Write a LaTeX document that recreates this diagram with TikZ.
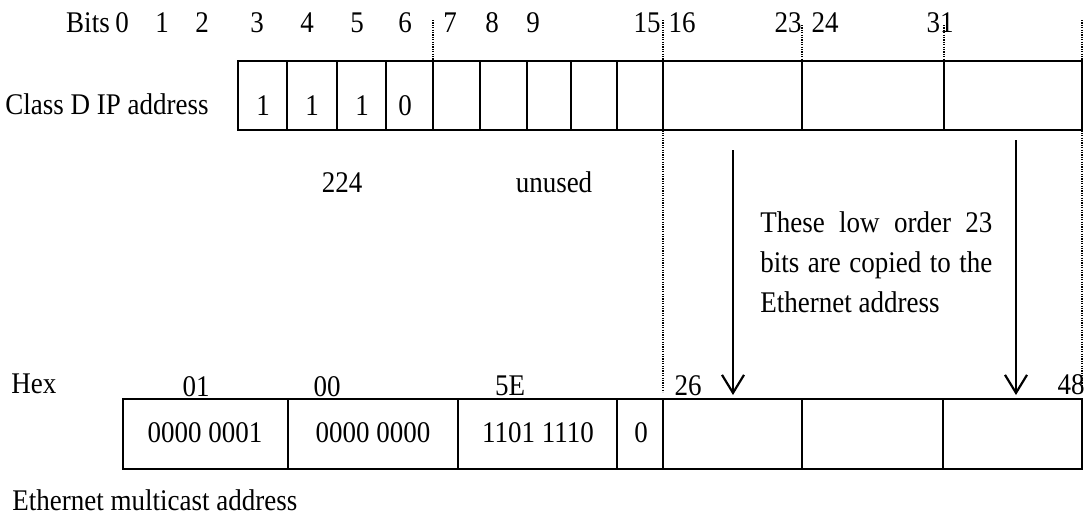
\documentclass[tikz,border=0pt]{standalone}
\usepackage{fontspec}
\setmainfont[FakeStretch=0.9]{Liberation Serif}
\usetikzlibrary{arrows.meta}

\tikzset{
  frame/.style={line width=1.35pt},
  guide/.style={line width=1pt, dash pattern=on 0.6pt off 0.6pt},
  copyarrow/.style={line width=1.1pt, -{Straight Barb[length=9pt,width=11pt,line width=1.1pt]}},
  lbl/.style={inner sep=0pt, anchor=base, font=\fontsize{15}{18}\selectfont},
}

\begin{document}
\begin{tikzpicture}[x=0.5pt,y=-0.5pt]
	%%%%% START %%%%%
	\useasboundingbox (0,0) rectangle (1088,520);

	% dotted bit boundaries
	\draw[guide] (433,20) -- (433,61);
	\draw[guide] (663,20) -- (663,392);
	\draw[guide] (802,25) -- (802,61);
	\draw[guide] (944,25) -- (944,61);
	\draw[guide] (1082,20) -- (1082,392);

	% bit numbers
	\node[lbl] (bits) at (88,32) {Bits};
	\node[lbl] (b0) at (122,32) {0};
	\node[lbl] (b1) at (162,32) {1};
	\node[lbl] (b2) at (202,32) {2};
	\node[lbl] (b3) at (257,32) {3};
	\node[lbl] (b4) at (307,32) {4};
	\node[lbl] (b5) at (357,32) {5};
	\node[lbl] (b6) at (405,32) {6};
	\node[lbl] (b7) at (450,32) {7};
	\node[lbl] (b8) at (492,32) {8};
	\node[lbl] (b9) at (533,32) {9};
	\node[lbl] (b15) at (647,32) {15};
	\node[lbl] (b16) at (682,32) {16};
	\node[lbl] (b23) at (788,32) {23};
	\node[lbl] (b24) at (825,32) {24};
	\node[lbl] (b31) at (940,32) {31};

	% class D address word
	\node[lbl, anchor=base west] (ipname) at (5,114) {Class D IP address};
	\draw[frame] (238,61) rectangle (1082,130);
	\draw[frame] (287,61) -- (287,130);
	\draw[frame] (337,61) -- (337,130);
	\draw[frame] (386,61) -- (386,130);
	\draw[frame] (433,61) -- (433,130);
	\draw[frame] (480,61) -- (480,130);
	\draw[frame] (527,61) -- (527,130);
	\draw[frame] (571,61) -- (571,130);
	\draw[frame] (617,61) -- (617,130);
	\draw[frame] (663,61) -- (663,130);
	\draw[frame] (802,61) -- (802,130);
	\draw[frame] (944,61) -- (944,130);

	\node[lbl] (ip0) at (263,115) {1};
	\node[lbl] (ip1) at (312,115) {1};
	\node[lbl] (ip2) at (362,115) {1};
	\node[lbl] (ip3) at (405,115) {0};

	\node[lbl] (prefix) at (342,192) {224};
	\node[lbl] (unused) at (554,192) {unused};

	\node[lbl, anchor=base west, text width=116pt, align=justify,
		font=\fontsize{15}{20}\selectfont] (note) at (760,232)
		{These low order 23\linebreak bits are copied to the\linebreak Ethernet address};

	% low order bits copied down
	\coordinate (srcL) at (733,150);
	\coordinate (dstL) at (733,395);
	\coordinate (srcR) at (1016,140);
	\coordinate (dstR) at (1016,395);
	\draw[copyarrow] (srcL) -- (dstL);
	\draw[copyarrow] (srcR) -- (dstR);

	% ethernet address
	\node[lbl, anchor=base west] (hex) at (11,393) {Hex};
	\node[lbl] (h01) at (196,396) {01};
	\node[lbl] (h00) at (327,396) {00};
	\node[lbl] (h5e) at (510,395) {5E};
	\node[lbl] (e26) at (688,395) {26};
	\node[lbl] (e48) at (1071,394) {48};

	\draw[frame] (123,399) rectangle (1082,469);
	\draw[frame] (288,399) -- (288,469);
	\draw[frame] (458,399) -- (458,469);
	\draw[frame] (617,399) -- (617,469);
	\draw[frame] (663,399) -- (663,469);
	\draw[frame] (802,399) -- (802,469);
	\draw[frame] (943,399) -- (943,469);

	\node[lbl] (oct0) at (205,442) {0000 0001};
	\node[lbl] (oct1) at (373,442) {0000 0000};
	\node[lbl] (oct2) at (538,442) {1101 1110};
	\node[lbl] (oct3) at (641,442) {0};

	\node[lbl, anchor=base west] (ethname) at (12,510) {Ethernet multicast address};
	%%%%% END %%%%%
\end{tikzpicture}
\end{document}
